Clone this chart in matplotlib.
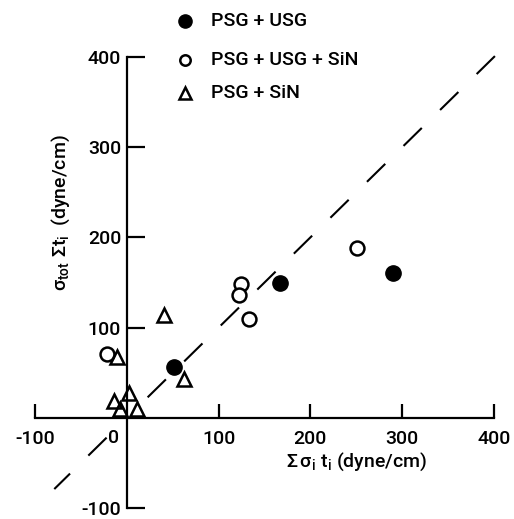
import numpy as np
import matplotlib
matplotlib.use('Agg')
import matplotlib.pyplot as plt

plt.rcParams['font.family'] = ['Roboto', 'DejaVu Sans']
plt.rcParams['font.weight'] = 'medium'
plt.rcParams['mathtext.fontset'] = 'custom'
plt.rcParams['mathtext.rm'] = 'Roboto:medium'
plt.rcParams['mathtext.it'] = 'Roboto:medium'

# data
usg_x = [51, 167, 290]
usg_y = [56, 150, 160]
usg_sin_x = [251, 124, 122, 133, -22]
usg_sin_y = [188, 148, 136, 110, 71]
sin_x = [40, -11, 62, 2, -14, -7, 11]
sin_y = [114, 67, 43, 27, 19, 10, 10]

ticks = [-100, 100, 200, 300, 400]
tick_labels = ['-100', '100', '200', '300', '400']
line_hi = [401, 20]
line_lo = [-22, -79]

fig = plt.figure(figsize=(5.14, 5.19), dpi=100)
W, H = 514, 519
ax = fig.add_axes([35 / W, (H - 508) / H, 459 / W, 451 / H])
ax.set_xlim(-100, 400)
ax.set_ylim(-100, 400)

for s in ['top', 'right']:
    ax.spines[s].set_visible(False)
ax.spines['left'].set_position(('data', 0))
ax.spines['bottom'].set_position(('data', 0))
ax.spines['left'].set_linewidth(1.6)
ax.spines['bottom'].set_linewidth(1.6)

ax.set_xticks(ticks)
ax.set_xticklabels(tick_labels)
ax.set_yticks(ticks)
ax.set_yticklabels(tick_labels)
ax.tick_params(axis='x', direction='in', length=10, width=1.6, pad=9, labelsize=14)
ax.tick_params(axis='y', direction='in', length=13, width=1.6, pad=4, labelsize=14)
for t in ax.get_xticklines() + ax.get_yticklines():
    t.set_clip_on(False)
ax.text(-14, -12, '0', ha='center', va='top', fontsize=14)

# dashed y = x guide
ax.plot(line_hi, line_hi, color='k', lw=1.5, dashes=(12.3, 12.3), clip_on=False)
ax.plot(line_lo, line_lo, color='k', lw=1.5, dashes=(12.3, 12.3), clip_on=False)

ax.plot(usg_x, usg_y, 'o', ms=11, color='k', clip_on=False)
ax.plot(usg_sin_x, usg_sin_y, 'o', ms=10, mfc='white', mec='k', mew=1.8, clip_on=False)
ax.plot(sin_x, sin_y, '^', ms=10, mfc='none', mec='k', mew=1.8, clip_on=False)

# legend
leg_y = [21, 60, 93]
leg_mk = [dict(marker='o', ms=9.5, color='k'),
          dict(marker='o', ms=7.5, mfc='white', mec='k', mew=1.8),
          dict(marker='^', ms=8, mfc='none', mec='k', mew=1.8)]
leg_txt = ['PSG + USG', 'PSG + USG + SiN', 'PSG + SiN']
for yy, mk, tx in zip(leg_y, leg_mk, leg_txt):
    fig.lines.append(plt.Line2D([185 / W], [1 - yy / H], transform=fig.transFigure, ls='none', **mk))
    fig.text(211 / W, 1 - yy / H, tx, ha='left', va='center', fontsize=14)

fig.text(357 / W, 1 - 462 / H, r'$\Sigma\,\sigma_i\ t_i$ (dyne/cm)', ha='center', va='center', fontsize=14)
fig.text(61 / W, 1 - 213 / H, r'$\sigma_{tot}\ \Sigma t_i$  (dyne/cm)', ha='center', va='center',
         rotation=90, fontsize=14)

fig.savefig('out.png', dpi=100)
